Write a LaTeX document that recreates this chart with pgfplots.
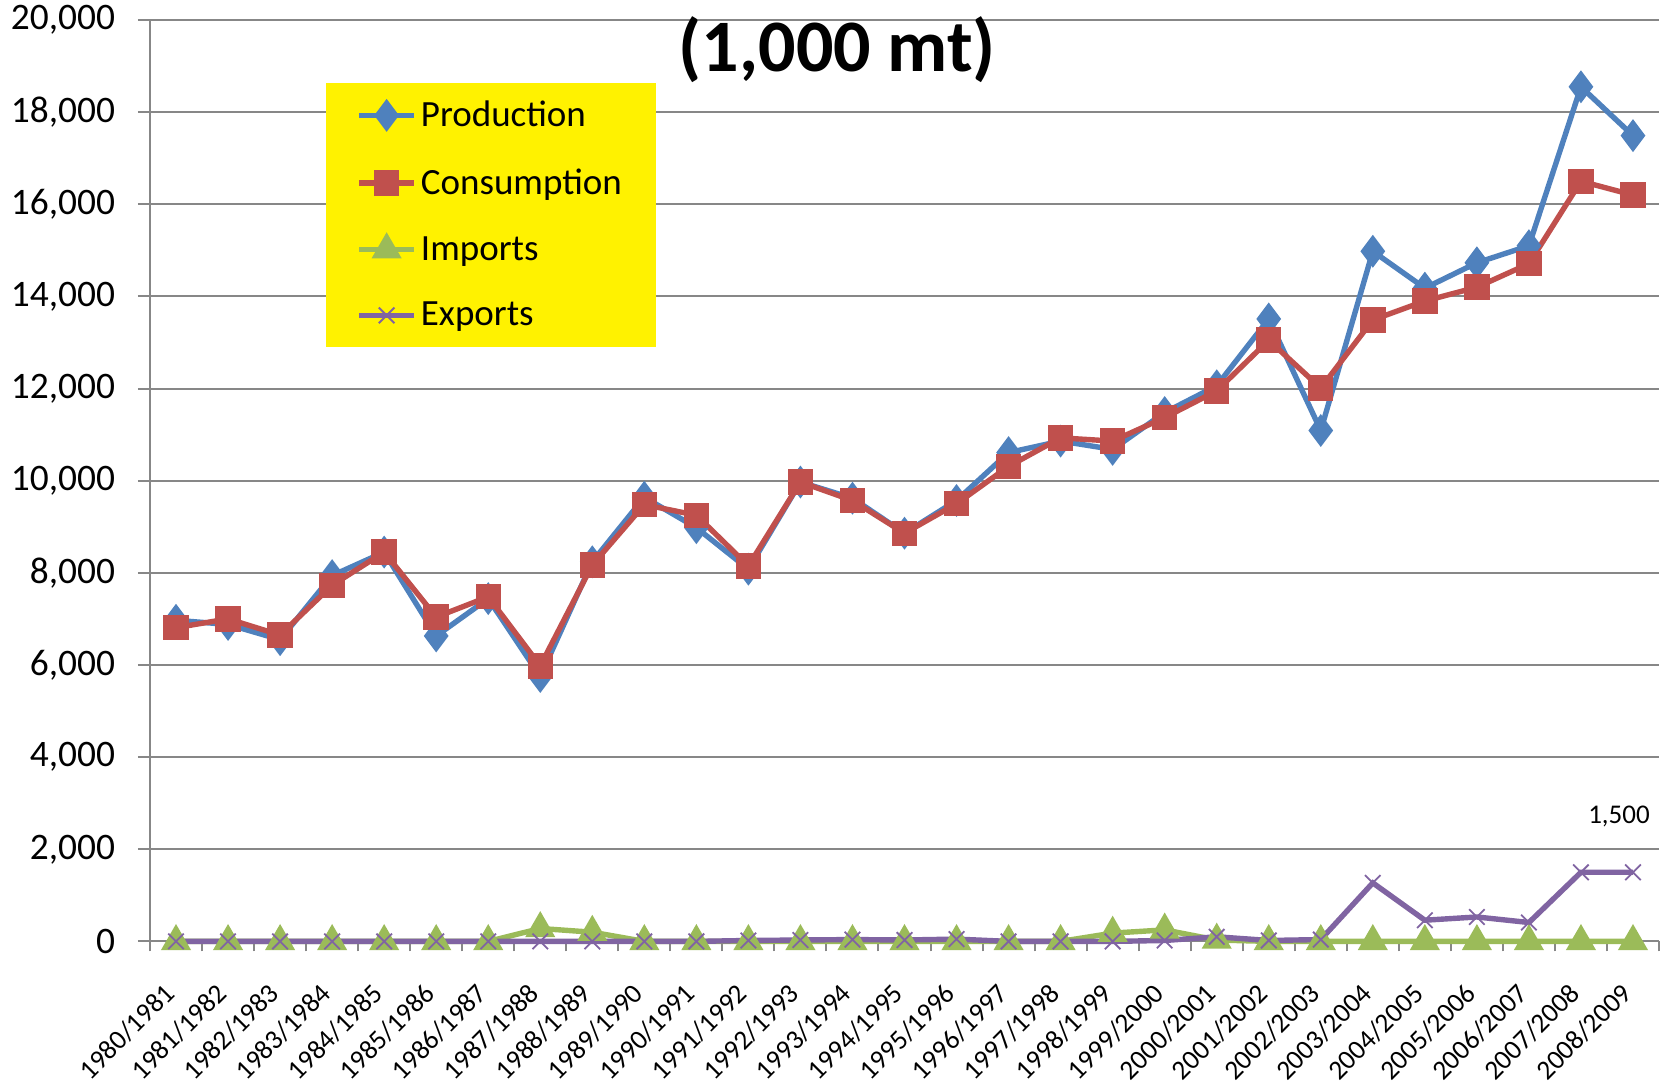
\documentclass[border=0pt]{standalone}
\usepackage{pgfplots}
\pgfplotsset{compat=1.18}
\usepackage{fontspec}
\setmainfont{Carlito}
\definecolor{prodblue}{HTML}{4F81BD}
\definecolor{consred}{HTML}{C0504D}
\definecolor{impgreen}{HTML}{9BBB59}
\definecolor{exppurple}{HTML}{8064A2}
\definecolor{gridgray}{HTML}{878787}

\pgfplotstableread{
x prod cons imp exp
0 6970 6810 0 0
1 6880 7000 0 0
2 6550 6650 0 0
3 7940 7730 0 0
4 8450 8450 0 0
5 6630 7040 0 0
6 7440 7480 0 0
7 5750 5980 280 0
8 8240 8170 200 0
9 9640 9480 0 0
10 8980 9250 0 0
11 8080 8150 0 20
12 9970 9970 0 30
13 9620 9570 0 40
14 8860 8860 0 30
15 9570 9500 0 50
16 10610 10310 0 0
17 10860 10930 0 0
18 10680 10860 180 0
19 11480 11370 250 20
20 12060 11950 30 100
21 13510 13050 0 20
22 11090 12010 0 40
23 14980 13490 0 1270
24 14180 13900 0 460
25 14730 14200 0 530
26 15100 14710 0 410
27 18550 16500 0 1500
28 17490 16200 0 1500
}\datatable

\begin{document}
\begin{tikzpicture}
\path[use as bounding box] (0,0) rectangle (831bp,542bp);
\begin{axis}[
 at={(75bp,71.3bp)},anchor=south west,
 scale only axis,width=754.5bp,height=460.7bp,
 xmin=-0.5,xmax=28.5,ymin=0,ymax=20000,
 clip=false,
 axis x line*=bottom,axis y line*=left,
 axis line style={gridgray,line width=1bp},
 ymajorgrids,grid style={gridgray,line width=1bp},
 ytick={0,2000,...,20000},
 scaled y ticks=false,
 yticklabel style={font=\fontsize{18.7bp}{21bp}\selectfont,xshift=-8bp,/pgf/number format/fixed,/pgf/number format/1000 sep={,}},
 /pgf/number format/assume math mode=true,
 xtick={0,...,28},
 xticklabels={1980/1981,1981/1982,1982/1983,1983/1984,1984/1985,1985/1986,1986/1987,1987/1988,1988/1989,1989/1990,1990/1991,1991/1992,1992/1993,1993/1994,1994/1995,1995/1996,1996/1997,1997/1998,1998/1999,1999/2000,2000/2001,2001/2002,2002/2003,2003/2004,2004/2005,2005/2006,2006/2007,2007/2008,2008/2009},
 xticklabel style={font=\fontsize{13.7bp}{15bp}\selectfont,xshift=-6.6bp,yshift=-12.5bp,rotate=45,anchor=north east,inner sep=1bp},
 minor xtick={-0.5,0.5,...,28.5},
 tick align=outside,
 major tick length=6bp,minor tick length=5bp,
 xtick style={draw=none},
 minor x tick style={draw=gridgray,line width=1bp},
 ytick style={gridgray,line width=1bp},
 every axis plot/.append style={line width=2.7bp},
 legend style={at={(0.1166,0.932)},anchor=north west,fill=yellow,draw=none,
  font=\fontsize{18.5bp}{20bp}\selectfont,inner xsep=15bp,inner ysep=7bp,
  row sep=15.5bp,
  nodes={inner sep=2bp}},
 legend cell align=left,
 legend image code/.code={\draw[#1,mark repeat=2,mark phase=2] plot coordinates {(0bp,0bp) (13.8bp,0bp) (27.6bp,0bp)};},
]
\addplot[prodblue,mark=diamond*,mark size=6bp,mark options={solid,fill=prodblue}] table[x=x,y=prod]{\datatable};
\addplot[consred,mark=square*,mark size=5bp,mark options={solid,fill=consred}] table[x=x,y=cons]{\datatable};
\addplot[impgreen,mark=triangle*,mark size=6bp,mark options={solid,fill=impgreen}] table[x=x,y=imp]{\datatable};
\addplot[exppurple,mark=x,mark size=5.5bp,mark options={solid,line width=0.9bp}] table[x=x,y=exp]{\datatable};
\legend{Production,Consumption,Imports,Exports}
\node[font=\bfseries\fontsize{37bp}{40bp}\selectfont] at (rel axis cs:0.4555,0.968) {(1,000 mt)};
\node[font=\fontsize{13.5bp}{15bp}\selectfont] at (axis cs:28,1500) [xshift=-7bp,yshift=28bp] {1,500};
\end{axis}
\end{tikzpicture}
\end{document}
